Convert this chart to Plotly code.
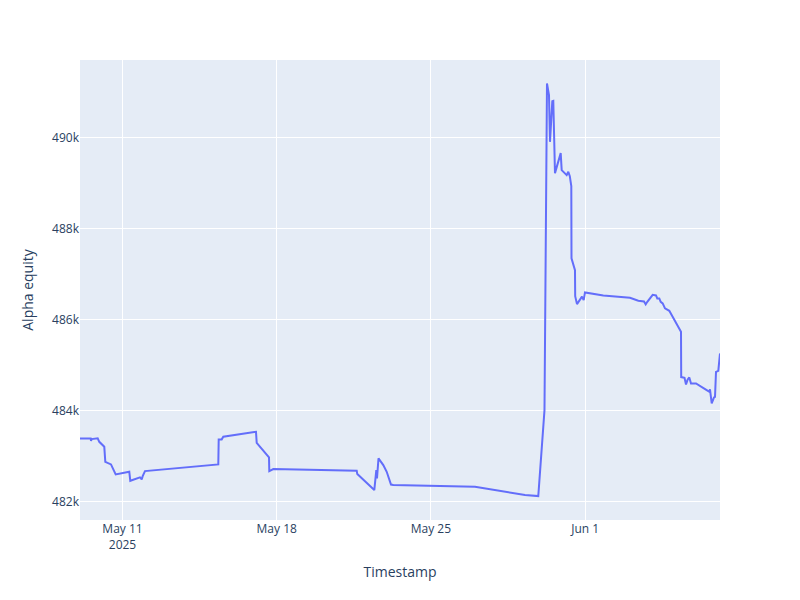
import plotly.graph_objects as go

timestamps = [
    "2025-05-09 01:42", "2025-05-09 13:21", "2025-05-09 13:41", "2025-05-09 14:27",
    "2025-05-09 20:59", "2025-05-09 22:43", "2025-05-10 04:10", "2025-05-10 05:16",
    "2025-05-10 11:28", "2025-05-10 16:35", "2025-05-11 07:24", "2025-05-11 08:30",
    "2025-05-11 19:04", "2025-05-11 20:55", "2025-05-11 22:00", "2025-05-12 00:31",
    "2025-05-15 08:22", "2025-05-15 08:48", "2025-05-15 12:04", "2025-05-15 13:49",
    "2025-05-17 01:26", "2025-05-17 02:12", "2025-05-17 15:36", "2025-05-17 15:56",
    "2025-05-17 20:17", "2025-05-21 15:09", "2025-05-21 15:48", "2025-05-22 10:19",
    "2025-05-22 12:30", "2025-05-22 13:15", "2025-05-22 14:54", "2025-05-22 20:07",
    "2025-05-22 23:50", "2025-05-23 04:31", "2025-05-23 07:01", "2025-05-27 00:01",
    "2025-05-29 06:30", "2025-05-29 20:58", "2025-05-30 03:44", "2025-05-30 06:27",
    "2025-05-30 08:38", "2025-05-30 09:43", "2025-05-30 12:14", "2025-05-30 13:19",
    "2025-05-30 15:10", "2025-05-30 21:23", "2025-05-30 22:28", "2025-05-31 03:55",
    "2025-05-31 05:40", "2025-05-31 07:18", "2025-05-31 08:56", "2025-05-31 09:09",
    "2025-05-31 12:57", "2025-05-31 13:10", "2025-05-31 15:08", "2025-05-31 20:35",
    "2025-05-31 22:26", "2025-05-31 23:51", "2025-06-01 19:48", "2025-06-03 00:53",
    "2025-06-03 09:56", "2025-06-03 16:08", "2025-06-03 18:00", "2025-06-03 19:44",
    "2025-06-04 01:36", "2025-06-04 05:12", "2025-06-04 06:37", "2025-06-04 08:48",
    "2025-06-04 10:19", "2025-06-04 12:30", "2025-06-04 15:01", "2025-06-04 19:42",
    "2025-06-05 08:27", "2025-06-05 08:40", "2025-06-05 12:16", "2025-06-05 13:54",
    "2025-06-05 15:45", "2025-06-05 17:30", "2025-06-05 19:21", "2025-06-06 00:48",
    "2025-06-06 12:26", "2025-06-06 15:16", "2025-06-06 16:02", "2025-06-06 17:54",
    "2025-06-06 20:24", "2025-06-06 21:29", "2025-06-06 22:35", "2025-06-07 01:05",
    "2025-06-07 02:56",
]

alpha_equity = [
    483392, 483392, 483339, 483377,
    483392, 483317, 483207, 482878,
    482821, 482602, 482659, 482461,
    482536, 482492, 482564, 482674,
    482821, 483370, 483370, 483427,
    483537, 483295, 482975, 482674,
    482718, 482681, 482608, 482257,
    482696, 482514, 482953, 482806,
    482659, 482378, 482367, 482329,
    482147, 482125, 484013, 491185,
    490929, 489903, 490797, 490804,
    489216, 489655, 489282, 489172,
    489245, 489150, 488931, 487344,
    487087, 486516, 486340, 486505,
    486428, 486597, 486531, 486479,
    486413, 486400, 486334, 486391,
    486544, 486531, 486465, 486465,
    486391, 486356, 486246, 486193,
    485732, 484738, 484722, 484577,
    484687, 484731, 484599, 484599,
    484452, 484415, 484468, 484160,
    484292, 484305, 484854, 484876,
    485258,
]

fig = go.Figure(
    go.Scatter(
        x=timestamps,
        y=alpha_equity,
        mode="lines",
        line=dict(color="#636efa", width=2),
    )
)

# The page body has an 8px margin, so the figure is sized and its margins
# shifted so that the plotting area lands where the reference has it.
fig.update_layout(
    template="plotly",
    width=792,
    height=592,
    margin=dict(t=52, l=72, r=80, b=80),
    xaxis=dict(title=dict(text="Timestamp")),
    yaxis=dict(title=dict(text="Alpha equity"), range=[481600, 491700]),
    showlegend=False,
)

fig.write_html("out.html")
